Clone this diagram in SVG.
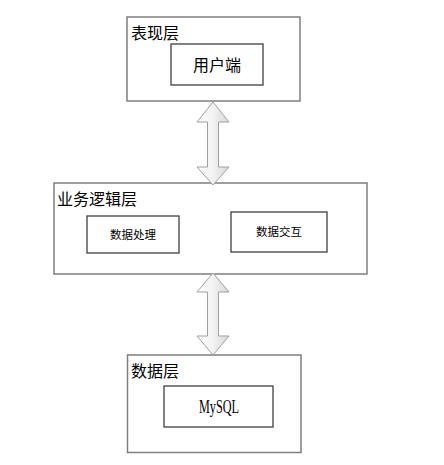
<svg xmlns="http://www.w3.org/2000/svg" width="444" height="465" viewBox="0 0 444 465">
<style>
.layer{fill:#fff;stroke:#7f7f7f;stroke-width:1.5}
.inner{fill:#fff;stroke:#404040;stroke-width:1.3}
.title{font-family:"Noto Sans CJK SC","Noto Sans",sans-serif;font-size:16px;fill:#000}
.lbl{font-family:"Noto Sans CJK SC","Noto Sans",sans-serif;font-size:11.5px;fill:#000;text-anchor:middle}
.arrow{fill:url(#ag);stroke:#a0a0a0;stroke-width:1}
</style>
<defs>
<linearGradient id="ag" x1="0" y1="0" x2="1" y2="0">
<stop offset="0" stop-color="#ffffff"/>
<stop offset="0.5" stop-color="#f2f2f2"/>
<stop offset="1" stop-color="#d8d8d8"/>
</linearGradient>
</defs>
<rect width="444" height="465" fill="#fff"/>
<g id="presentation">
<rect class="layer" x="127" y="17" width="173" height="84"/>
<text class="title" x="131" y="39">表现层</text>
</g>
<g id="client">
<rect class="inner" x="171" y="44" width="92" height="41"/>
<text class="lbl" x="217" y="71" style="font-size:16px">用户端</text>
</g>
<g id="business">
<rect class="layer" x="54" y="183" width="313" height="91"/>
<text class="title" x="57" y="205">业务逻辑层</text>
</g>
<g id="processing">
<rect class="inner" x="87" y="216" width="92" height="37"/>
<text class="lbl" x="133" y="239">数据处理</text>
</g>
<g id="interaction">
<rect class="inner" x="231" y="212" width="96" height="40"/>
<text class="lbl" x="279" y="236">数据交互</text>
</g>
<g id="data">
<rect class="layer" x="127.5" y="355" width="173.5" height="97.5"/>
<text class="title" x="131" y="377">数据层</text>
</g>
<g id="mysql">
<rect class="inner" x="164" y="386" width="109" height="41"/>
<text x="199" y="413" font-family="'Liberation Serif',serif" font-size="18" textLength="40" lengthAdjust="spacingAndGlyphs">MySQL</text>
</g>
<g id="connectors">
<path class="arrow" d="M213,102 L229,122 L218.5,122 L218.5,167 L229,167 L213,185 L197,167 L207.5,167 L207.5,122 L197,122 Z"/>
<path class="arrow" d="M213,273 L229,292 L218.5,292 L218.5,336 L229,336 L213,355 L197,336 L207.5,336 L207.5,292 L197,292 Z"/>
</g>
</svg>
